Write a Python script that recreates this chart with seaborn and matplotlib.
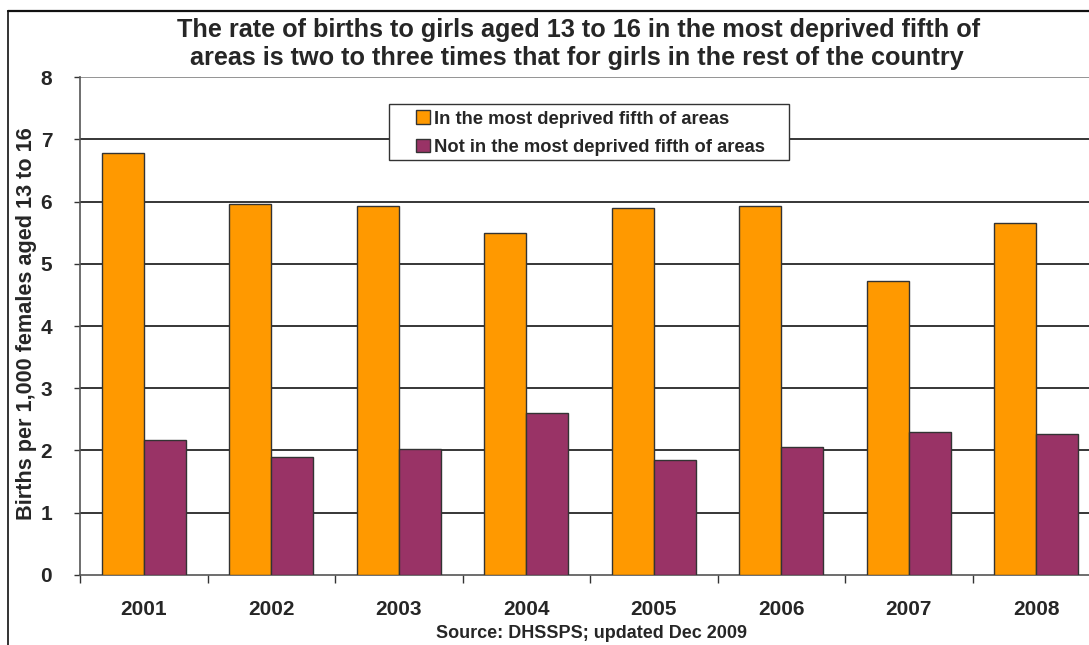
import matplotlib
matplotlib.use("Agg")
import matplotlib.pyplot as plt
from matplotlib.lines import Line2D
from matplotlib.patches import Patch, Rectangle
import seaborn as sns
import pandas as pd

# Birth rates per 1,000 females aged 13-16
years = ["2001", "2002", "2003", "2004", "2005", "2006", "2007", "2008"]
most_deprived = [6.79, 5.97, 5.93, 5.50, 5.90, 5.93, 4.72, 5.66]
rest_of_country = [2.16, 1.89, 2.02, 2.60, 1.84, 2.05, 2.29, 2.26]
series_names = ["In the most deprived fifth of areas",
                "Not in the most deprived fifth of areas"]
series_colors = ["#FF9900", "#993366"]
y_ticks = [0, 1, 2, 3, 4, 5, 6, 7, 8]

df = pd.DataFrame({
    "year": years * 2,
    "rate": most_deprived + rest_of_country,
    "group": [series_names[0]] * len(years) + [series_names[1]] * len(years),
})

sns.set_style("white")
plt.rcParams["font.family"] = ["Liberation Sans", "DejaVu Sans"]
plt.rcParams["font.weight"] = "bold"

W, H = 1089, 645
fig = plt.figure(figsize=(W / 100, H / 100), dpi=100)
fig.patch.set_facecolor("white")

# axes spans past the right edge of the figure
left, right, top, bottom = 80, 1100, 77.3, 574.7
ax = fig.add_axes([left / W, 1 - bottom / H, (right - left) / W, (bottom - top) / H])
ax.set_facecolor("white")

sns.barplot(data=df, x="year", y="rate", hue="group", order=years,
            hue_order=series_names, palette=series_colors, width=0.66,
            edgecolor="#333333", linewidth=1.0, saturation=1, gap=0,
            legend=False, ax=ax, zorder=3)

ax.set_xlim(-0.5, len(years) - 0.5)
ax.set_ylim(0, 8)
ax.set_yticks(y_ticks)
ax.set_yticklabels([str(t) for t in y_ticks], fontsize=15, fontweight="bold")
for t in y_ticks[1:]:
    ax.axhline(t, color="#000000" if t < 8 else "#777777", lw=1.1, zorder=1)

# tick marks between categories, labels at category centres
ax.set_xticks([i - 0.5 for i in range(len(years) + 1)])
ax.set_xticklabels([""] * (len(years) + 1))
ax.set_xticks(range(len(years)), minor=True)
ax.set_xticklabels(years, minor=True, fontsize=15, fontweight="bold")
ax.tick_params(axis="x", which="major", direction="out", length=6, width=1,
               color="#333333", bottom=True)
ax.tick_params(axis="x", which="minor", length=0, pad=18)
ax.tick_params(axis="y", direction="out", length=4, width=1, color="#333333",
               left=True, pad=16)

for side in ["top", "right"]:
    ax.spines[side].set_visible(False)
ax.spines["left"].set_color("#555555")
ax.spines["bottom"].set_color("#555555")
ax.spines["left"].set_linewidth(1.2)
ax.spines["bottom"].set_linewidth(1.2)

ax.set_xlabel("")
ax.set_ylabel("")
fig.text(27 / W, 1 - 324 / H, "Births per 1,000 females aged 13 to 16",
         rotation=90, ha="center", va="center", fontsize=15.6, fontweight="bold")

# legend: frame drawn as a rectangle, entries inside it
legend_box = Rectangle((389 / W, 1 - 160 / H), 400 / W, 56 / H,
                       transform=fig.transFigure, facecolor="white",
                       edgecolor="#333333", lw=1.0, zorder=4)
fig.add_artist(legend_box)
handles = [Patch(facecolor=c, edgecolor="#333333", linewidth=1.0) for c in series_colors]
leg = fig.legend(handles, series_names, loc="center left",
                 bbox_to_anchor=(416 / W, 1 - 133 / H),
                 frameon=False, prop={"size": 13.2, "weight": "bold"},
                 handlelength=0.75, handleheight=0.75, handletextpad=0.25,
                 borderpad=0, labelspacing=0.6, borderaxespad=0)
leg.set_zorder(5)

fig.text(579 / W, 1 - 30 / H,
         "The rate of births to girls aged 13 to 16 in the most deprived fifth of",
         ha="center", va="center", fontsize=18.2, fontweight="bold")
fig.text(577 / W, 1 - 58 / H,
         "areas is two to three times that for girls in the rest of the country",
         ha="center", va="center", fontsize=18.2, fontweight="bold")
fig.text(591 / W, 1 - 634 / H, "Source: DHSSPS; updated Dec 2009",
         ha="center", va="center", fontsize=13, fontweight="bold")

# outer chart frame
fig.add_artist(Line2D([8 / W, 8 / W], [0, 1 - 11 / H], color="#111111", lw=1.2))
fig.add_artist(Line2D([8 / W, 1], [1 - 11 / H, 1 - 11 / H], color="#111111", lw=1.6))

fig.savefig("out.png", dpi=100, facecolor="white")
